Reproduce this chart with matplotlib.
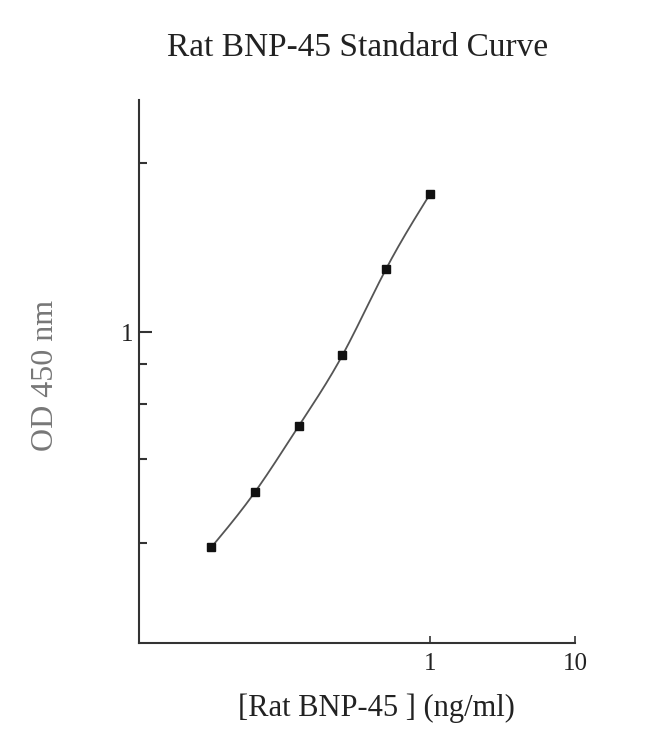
import numpy as np
import matplotlib
matplotlib.use("Agg")
import matplotlib.pyplot as plt
from matplotlib.ticker import FixedLocator, NullFormatter, FixedFormatter

# Data
conc = [0.03125, 0.0625, 0.125, 0.25, 0.5, 1.0]       # ng/ml
od = [0.203, 0.306, 0.499, 0.843, 1.60, 2.78]          # OD 450 nm

x_major_ticks = [1, 10]
x_major_labels = ["1", "10"]
y_major_ticks = [1]
y_major_labels = ["1"]
y_minor_ticks = [0.21, 0.39, 0.59, 0.79, 3.5]

title = "Rat BNP-45 Standard Curve"
xlabel = "[Rat BNP-45 ] (ng/ml)"
ylabel = "OD 450 nm"


def natural_spline(x, y, xs):
    x = np.asarray(x, float); y = np.asarray(y, float)
    n = len(x)
    h = np.diff(x)
    A = np.zeros((n, n)); b = np.zeros(n)
    A[0, 0] = 1; A[-1, -1] = 1
    for i in range(1, n - 1):
        A[i, i - 1] = h[i - 1]
        A[i, i] = 2 * (h[i - 1] + h[i])
        A[i, i + 1] = h[i]
        b[i] = 3 * ((y[i + 1] - y[i]) / h[i] - (y[i] - y[i - 1]) / h[i - 1])
    c = np.linalg.solve(A, b)
    ys = np.empty_like(xs)
    for k, xv in enumerate(xs):
        i = min(max(np.searchsorted(x, xv) - 1, 0), n - 2)
        dx = xv - x[i]
        bi = (y[i + 1] - y[i]) / h[i] - h[i] * (2 * c[i] + c[i + 1]) / 3
        di = (c[i + 1] - c[i]) / (3 * h[i])
        ys[k] = y[i] + bi * dx + c[i] * dx ** 2 + di * dx ** 3
    return ys


plt.rcParams['font.family'] = ['Liberation Serif', 'DejaVu Serif']

fig = plt.figure(figsize=(6.5, 7.49), dpi=100)
ax = fig.add_axes([139.3 / 650, 1 - 643 / 749, (575 - 139.3) / 650, (643 - 100) / 749])

lx = np.log10(conc); ly = np.log10(od)
xs = np.linspace(lx[0], lx[-1], 300)
ys = natural_spline(lx, ly, xs)
ax.plot(10 ** xs, 10 ** ys, color="#555555", lw=1.3, zorder=2)
ax.plot(conc, od, linestyle="none", marker="s", ms=6, color="#111111", zorder=3)

ax.set_xscale("log")
ax.set_yscale("log")
ax.set_xlim(0.01, 10)
ax.set_ylim(0.1, 5.6)

for s in ["top", "right"]:
    ax.spines[s].set_visible(False)
for s in ["left", "bottom"]:
    ax.spines[s].set_color("#333333")
    ax.spines[s].set_linewidth(1.5)

ax.xaxis.set_major_locator(FixedLocator(x_major_ticks))
ax.xaxis.set_major_formatter(FixedFormatter(x_major_labels))
ax.xaxis.set_minor_locator(FixedLocator([]))
ax.yaxis.set_major_locator(FixedLocator(y_major_ticks))
ax.yaxis.set_major_formatter(FixedFormatter(y_major_labels))
ax.yaxis.set_minor_locator(FixedLocator(y_minor_ticks))
ax.yaxis.set_minor_formatter(NullFormatter())

ax.tick_params(axis="x", which="major", direction="in", length=5, width=1.2,
               color="#333333", labelsize=18, labelcolor="#222222", pad=7)
ax.tick_params(axis="y", which="major", direction="in", length=9, width=1.5,
               color="#333333", labelsize=18, labelcolor="#222222", pad=4)
ax.tick_params(axis="y", which="minor", direction="in", length=6, width=1.5,
               color="#333333")

ax.set_title(title, fontsize=24, color="#222222", pad=32)
ax.set_xlabel(xlabel, fontsize=22, color="#222222")
ax.xaxis.set_label_coords((376 - 139.3) / (575 - 139.3), -(708 - 643) / 543)
ax.xaxis.label.set_verticalalignment("center")
ax.set_ylabel(ylabel, fontsize=23, color="#777777")
ax.yaxis.set_label_coords(-(139.3 - 46) / (575 - 139.3), (643 - 375) / 543)
ax.yaxis.label.set_verticalalignment("center")

fig.savefig("out.png", dpi=100)
